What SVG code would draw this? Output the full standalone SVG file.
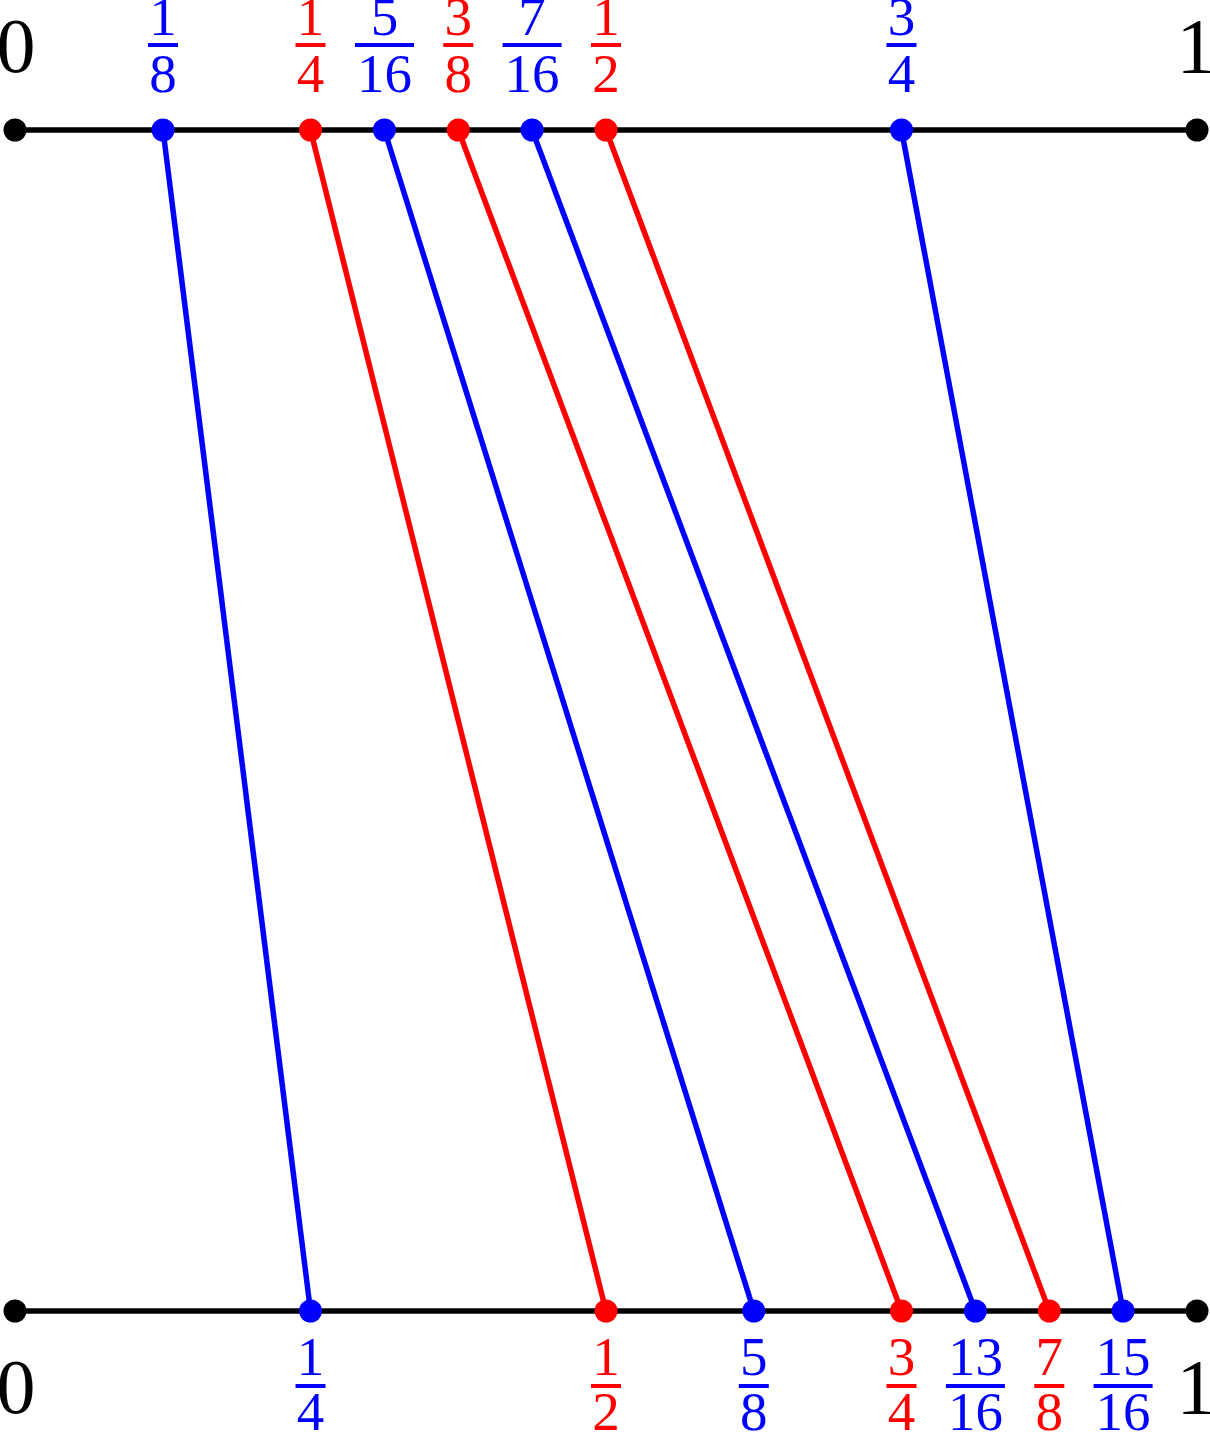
<svg xmlns="http://www.w3.org/2000/svg" width="1210" height="1432" viewBox="0 0 1210 1432">
<style>
text{font-family:"Liberation Serif","DejaVu Serif",serif;text-anchor:middle}
.f{font-size:55px}
.big{font-size:78px;fill:#000}
.b{fill:#0000ff}
.r{fill:#ff0000}
.bar{stroke-width:4}
.bb{stroke:#0000ff}
.rb{stroke:#ff0000}
.axis{stroke:#000;stroke-width:5.5}
.c{stroke-width:5.5;fill:none}
</style>
<rect width="1210" height="1432" fill="#fff"/>
<g id="connectors">
<line class="c bb" x1="163" y1="130" x2="310.5" y2="1311"/>
<line class="c rb" x1="310.5" y1="130" x2="606" y2="1311"/>
<line class="c bb" x1="384.4" y1="130" x2="753.8" y2="1311"/>
<line class="c rb" x1="458.3" y1="130" x2="901.5" y2="1311"/>
<line class="c bb" x1="532.1" y1="130" x2="975.4" y2="1311"/>
<line class="c rb" x1="606" y1="130" x2="1049.3" y2="1311"/>
<line class="c bb" x1="901.5" y1="130" x2="1123.1" y2="1311"/>
</g>
<g id="top-axis">
<line class="axis" x1="15" y1="130" x2="1197" y2="130"/>
<circle cx="15" cy="130" r="11.5" fill="#000"/>
<circle cx="1197" cy="130" r="11.5" fill="#000"/>
<text class="big" x="16" y="72">0</text>
<text class="big" x="1196" y="72">1</text>
</g>
<g id="bottom-axis">
<line class="axis" x1="15" y1="1311" x2="1197" y2="1311"/>
<circle cx="15" cy="1311" r="11.5" fill="#000"/>
<circle cx="1197" cy="1311" r="11.5" fill="#000"/>
<text class="big" x="16" y="1413">0</text>
<text class="big" x="1196" y="1413">1</text>
</g>
<g id="top-1-8"><circle class="b" cx="163" cy="130" r="11.5"/><text class="f b" x="163" y="35">1</text><line class="bar bb" x1="148" y1="45" x2="178" y2="45"/><text class="f b" x="163" y="92">8</text></g>
<g id="top-1-4"><circle class="r" cx="310.5" cy="130" r="11.5"/><text class="f r" x="310.5" y="35">1</text><line class="bar rb" x1="295.5" y1="45" x2="325.5" y2="45"/><text class="f r" x="310.5" y="92">4</text></g>
<g id="top-5-16"><circle class="b" cx="384.4" cy="130" r="11.5"/><text class="f b" x="384.4" y="35">5</text><line class="bar bb" x1="355" y1="45" x2="414" y2="45"/><text class="f b" x="384.4" y="92">16</text></g>
<g id="top-3-8"><circle class="r" cx="458.3" cy="130" r="11.5"/><text class="f r" x="458.3" y="35">3</text><line class="bar rb" x1="443.3" y1="45" x2="473.3" y2="45"/><text class="f r" x="458.3" y="92">8</text></g>
<g id="top-7-16"><circle class="b" cx="532.1" cy="130" r="11.5"/><text class="f b" x="532.1" y="35">7</text><line class="bar bb" x1="502.6" y1="45" x2="561.6" y2="45"/><text class="f b" x="532.1" y="92">16</text></g>
<g id="top-1-2"><circle class="r" cx="606" cy="130" r="11.5"/><text class="f r" x="606" y="35">1</text><line class="bar rb" x1="591" y1="45" x2="621" y2="45"/><text class="f r" x="606" y="92">2</text></g>
<g id="top-3-4"><circle class="b" cx="901.5" cy="130" r="11.5"/><text class="f b" x="901.5" y="35">3</text><line class="bar bb" x1="886.5" y1="45" x2="916.5" y2="45"/><text class="f b" x="901.5" y="92">4</text></g>
<g id="bot-1-4"><circle class="b" cx="310.5" cy="1311" r="11.5"/><text class="f b" x="310.5" y="1375">1</text><line class="bar bb" x1="295.5" y1="1386" x2="325.5" y2="1386"/><text class="f b" x="310.5" y="1430">4</text></g>
<g id="bot-1-2"><circle class="r" cx="606" cy="1311" r="11.5"/><text class="f r" x="606" y="1375">1</text><line class="bar rb" x1="591" y1="1386" x2="621" y2="1386"/><text class="f r" x="606" y="1430">2</text></g>
<g id="bot-5-8"><circle class="b" cx="753.8" cy="1311" r="11.5"/><text class="f b" x="753.8" y="1375">5</text><line class="bar bb" x1="738.8" y1="1386" x2="768.8" y2="1386"/><text class="f b" x="753.8" y="1430">8</text></g>
<g id="bot-3-4"><circle class="r" cx="901.5" cy="1311" r="11.5"/><text class="f r" x="901.5" y="1375">3</text><line class="bar rb" x1="886.5" y1="1386" x2="916.5" y2="1386"/><text class="f r" x="901.5" y="1430">4</text></g>
<g id="bot-13-16"><circle class="b" cx="975.4" cy="1311" r="11.5"/><text class="f b" x="975.4" y="1375">13</text><line class="bar bb" x1="945.9" y1="1386" x2="1004.9" y2="1386"/><text class="f b" x="975.4" y="1430">16</text></g>
<g id="bot-7-8"><circle class="r" cx="1049.3" cy="1311" r="11.5"/><text class="f r" x="1049.3" y="1375">7</text><line class="bar rb" x1="1034.3" y1="1386" x2="1064.3" y2="1386"/><text class="f r" x="1049.3" y="1430">8</text></g>
<g id="bot-15-16"><circle class="b" cx="1123.1" cy="1311" r="11.5"/><text class="f b" x="1123.1" y="1375">15</text><line class="bar bb" x1="1093.6" y1="1386" x2="1152.6" y2="1386"/><text class="f b" x="1123.1" y="1430">16</text></g>
</svg>
